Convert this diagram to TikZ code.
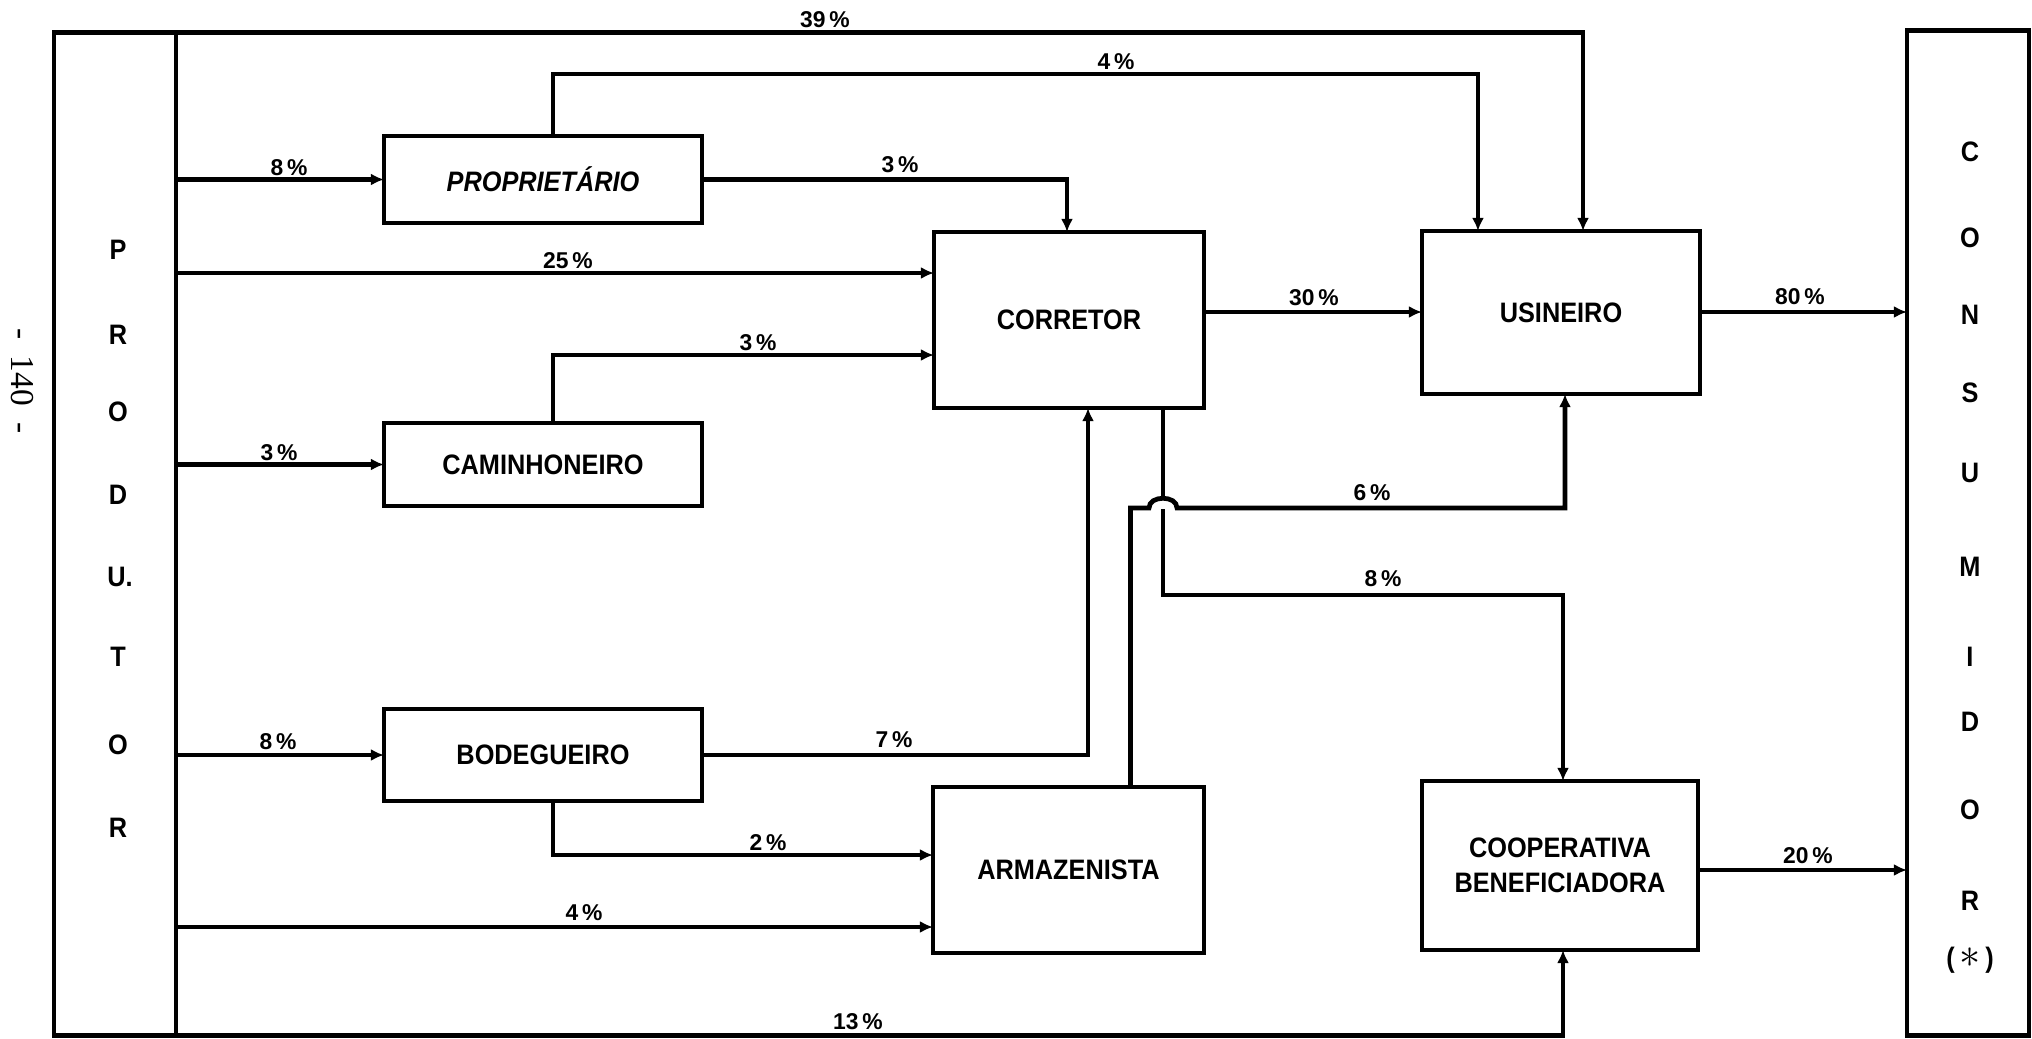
\documentclass[tikz,border=0pt]{standalone}
\usepackage{fontspec}
\setmainfont{Liberation Sans}
\newfontfamily\boxfont[FakeStretch=0.9]{Liberation Sans}
\newfontfamily\pagefont{Liberation Serif}
\usetikzlibrary{arrows.meta}
\begin{document}
\begin{tikzpicture}[x=0.01cm,y=-0.01cm,line width=1.35pt,
  box/.style={draw,rectangle,inner sep=0pt,outer sep=0pt,align=center,
    font=\boxfont\bfseries\fontsize{8}{9.8}\selectfont},
  arr/.style={-{Latex[length=1.3mm,width=1.2mm]}},
  pct/.style={inner sep=0pt,font=\bfseries\fontsize{6.5}{7}\selectfont},
  lett/.style={inner sep=0pt,font=\boxfont\bfseries\fontsize{8}{9}\selectfont}]
\useasboundingbox (0,0) rectangle (2032,1039);

% page number
\node[inner sep=0pt,rotate=-90,font=\pagefont\fontsize{9.5}{11}\selectfont] (pg) at (22,381) {-\enspace140\enspace-};

% boxes
\node[box,minimum width=1.22cm,minimum height=10.02cm] (prod) at (115,534) {};
\node[box,minimum width=1.22cm,minimum height=10.04cm] (cons) at (1968,533) {};
\node[box,minimum width=3.18cm,minimum height=0.87cm,font=\boxfont\bfseries\itshape\fontsize{8}{9.8}\selectfont] (prop) at (543,179.5) {PROPRIETÁRIO};
\node[box,minimum width=3.18cm,minimum height=0.83cm] (cam) at (543,464.5) {CAMINHONEIRO};
\node[box,minimum width=3.18cm,minimum height=0.92cm] (bod) at (543,755) {BODEGUEIRO};
\node[box,minimum width=2.70cm,minimum height=1.76cm] (corr) at (1069,320) {CORRETOR};
\node[box,minimum width=2.78cm,minimum height=1.63cm] (usi) at (1561,312.5) {USINEIRO};
\node[box,minimum width=2.71cm,minimum height=1.66cm] (arm) at (1068.5,870) {ARMAZENISTA};
\node[box,minimum width=2.76cm,minimum height=1.69cm] (coop) at (1560,865.5) {COOPERATIVA\\BENEFICIADORA};

% PRODUTOR letters
\node[lett] (pa) at (118,250) {P};
\node[lett] (pb) at (118,335) {R};
\node[lett] (pc) at (118,412) {O};
\node[lett] (pd) at (118,495) {D};
\node[lett] (pe) at (120,577) {U.};
\node[lett] (pf) at (118,657) {T};
\node[lett] (pg2) at (118,745) {O};
\node[lett] (ph) at (118,828) {R};

% CONSUMIDOR letters
\node[lett] (ca) at (1970,152) {C};
\node[lett] (cb) at (1970,238) {O};
\node[lett] (cc) at (1970,315) {N};
\node[lett] (cd) at (1970,393) {S};
\node[lett] (ce) at (1970,473) {U};
\node[lett] (cf) at (1970,567) {M};
\node[lett] (cg) at (1970,657) {I};
\node[lett] (ch) at (1970,722) {D};
\node[lett] (ci) at (1970,810) {O};
\node[lett] (cj) at (1970,901) {R};
\node[lett] (ck) at (1970,960) {(\,{\fontsize{12}{12}\selectfont$\ast$}\,)};

% connectors
\draw[arr] (prod.north east) -| ([xshift=0.22cm]usi.north);
\draw[arr] ([xshift=0.10cm]prop.north) -- ++(0,-62) -| ([xshift=-0.83cm]usi.north);
\draw[arr] (prod.east |- prop.west) -- (prop.west);
\draw[arr] (prop.east) -| ([xshift=-0.02cm]corr.north);
\draw[arr] (prod.east |- 0,273) -- (corr.west |- 0,273);
\draw[arr] (prod.east |- cam.west) -- (cam.west);
\draw[arr] ([xshift=0.10cm]cam.north) |- (corr.west |- 0,355);
\draw[arr] (prod.east |- bod.west) -- (bod.west);
\draw[arr] (bod.east) -| ([xshift=0.19cm]corr.south);
\draw[arr] ([xshift=0.10cm]bod.south) |- (arm.west |- 0,855);
\draw[arr] (prod.east |- 0,927) -- (arm.west |- 0,927);
\draw[arr] (prod.south east) -| ([xshift=0.03cm]coop.south);
\draw[arr] (corr.east |- 0,312) -- (usi.west |- 0,312);
\draw[arr] (usi.east |- 0,312) -- (cons.west |- 0,312);
\draw[arr] (coop.east |- 0,870) -- (cons.west |- 0,870);
\draw[arr] ([xshift=0.94cm]corr.south) -- ++(0,187) -| ([xshift=0.03cm]coop.north);
\fill[white] (1149,509) .. controls (1149,495) and (1177,495) .. (1177,509) -- cycle;
\draw[arr] ([xshift=0.62cm]arm.north) |- (1149,508) .. controls (1149,495) and (1177,495) .. (1177,508) -| ([xshift=0.04cm]usi.south);

% percentage labels
\node[pct] (l39) at (825,20) {39\,\%};
\node[pct] (l4a) at (1116,62) {4\,\%};
\node[pct] (l8a) at (289,168) {8\,\%};
\node[pct] (l3a) at (900,165) {3\,\%};
\node[pct] (l25) at (568,261) {25\,\%};
\node[pct] (l3b) at (758,343) {3\,\%};
\node[pct] (l3c) at (279,453) {3\,\%};
\node[pct] (l8b) at (278,742) {8\,\%};
\node[pct] (l7) at (894,740) {7\,\%};
\node[pct] (l2) at (768,843) {2\,\%};
\node[pct] (l4b) at (584,913) {4\,\%};
\node[pct] (l13) at (858,1022) {13\,\%};
\node[pct] (l30) at (1314,298) {30\,\%};
\node[pct] (l80) at (1800,297) {80\,\%};
\node[pct] (l6) at (1372,493) {6\,\%};
\node[pct] (l8c) at (1383,579) {8\,\%};
\node[pct] (l20) at (1808,856) {20\,\%};
\end{tikzpicture}
\end{document}
